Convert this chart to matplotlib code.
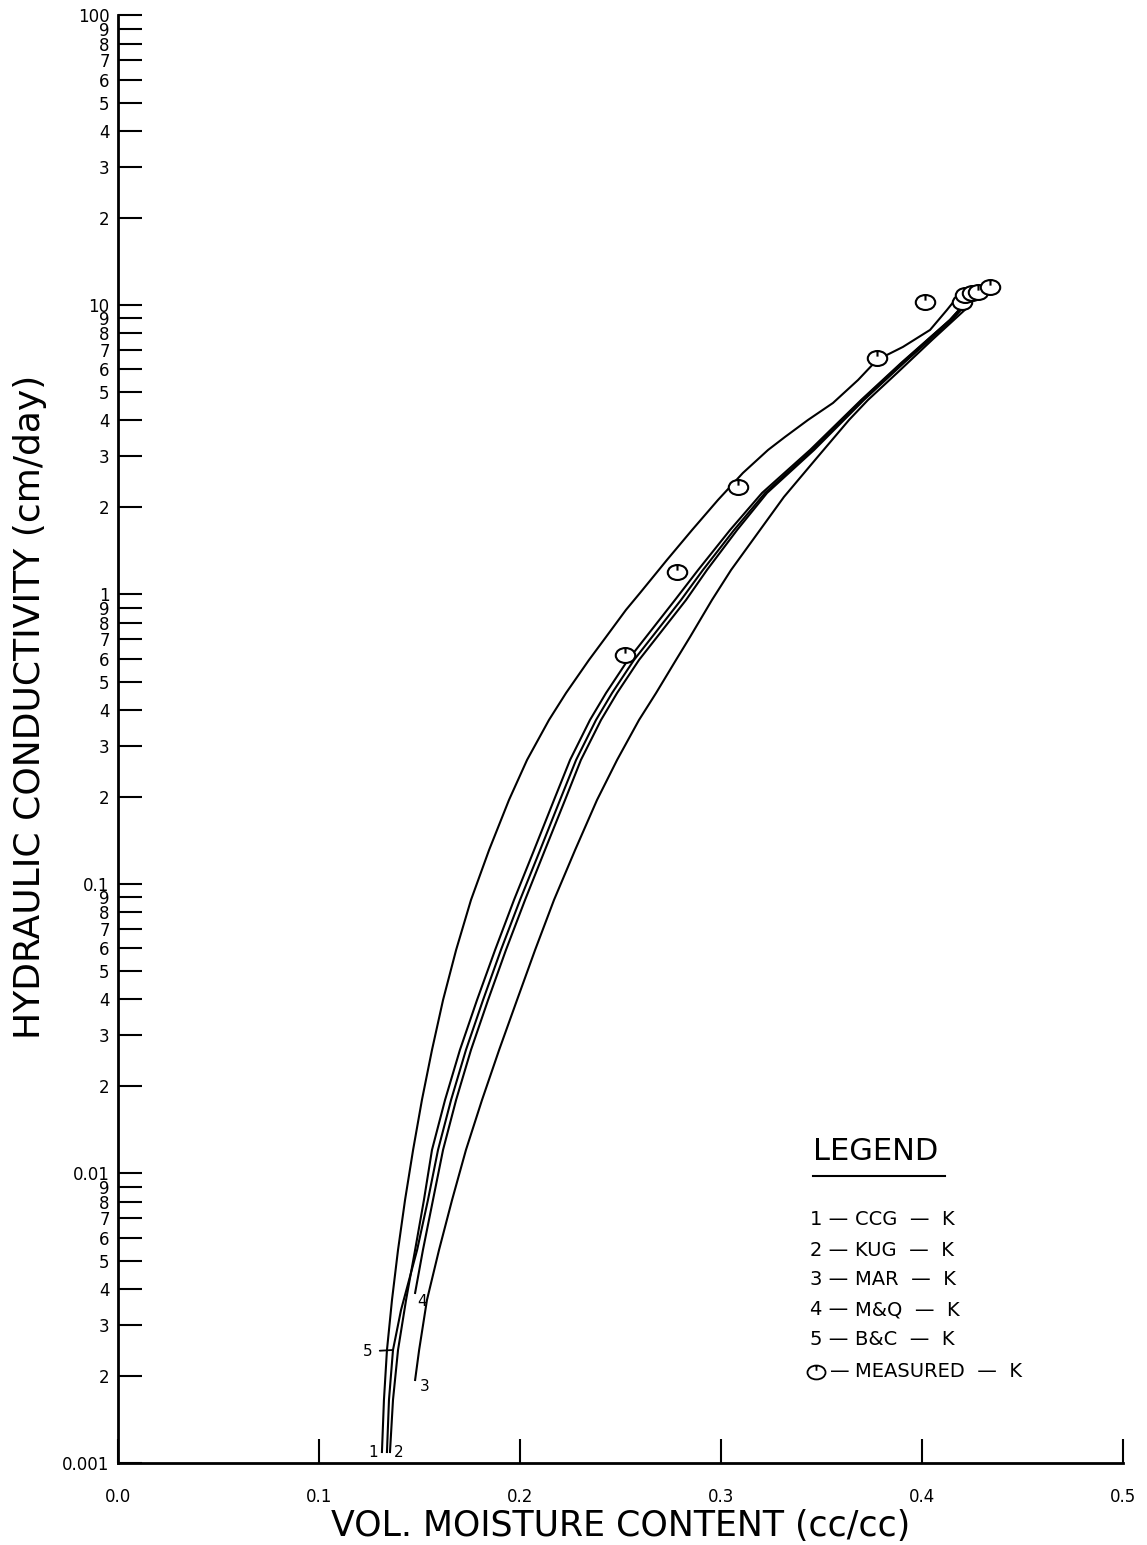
import numpy as np
import matplotlib
matplotlib.use("Agg")
import matplotlib.pyplot as plt
from matplotlib.path import Path
from matplotlib.ticker import FixedLocator, FixedFormatter

# --- data (theta in cc/cc, K in cm/day) ---
ccg_theta = [0.1313, 0.1323, 0.1338, 0.1363, 0.1393, 0.1428, 0.1468, 0.1512, 0.1562, 0.1617,
             0.1682, 0.1756, 0.1846, 0.1945, 0.2035, 0.2144, 0.2229, 0.2343, 0.2428, 0.2527,
             0.2597, 0.2731, 0.2856, 0.2985, 0.3109, 0.3234, 0.3318, 0.3433, 0.3557, 0.3682,
             0.3776, 0.3905, 0.4040, 0.4124, 0.4204, 0.4353]
ccg_k = [0.001091, 0.001651, 0.002456, 0.003656, 0.005442, 0.008105, 0.01206, 0.01795, 0.02671, 0.03973,
         0.05916, 0.08805, 0.1310, 0.1950, 0.2682, 0.3685, 0.4568, 0.5939, 0.7134, 0.8843,
         1.012, 1.316, 1.670, 2.121, 2.629, 3.156, 3.499, 4.008, 4.586, 5.508,
         6.457, 7.162, 8.199, 9.610, 11.27, 11.54]

kug_theta = [0.1353, 0.1368, 0.1393, 0.1433, 0.1478, 0.1522, 0.1562, 0.1627, 0.1701, 0.1786,
             0.1876, 0.1970, 0.2070, 0.2169, 0.2249, 0.2348, 0.2428, 0.2537, 0.2627, 0.2771,
             0.2886, 0.3045, 0.3204, 0.3443, 0.3697, 0.3896, 0.4139, 0.4229]
kug_k = [0.001091, 0.001651, 0.002456, 0.003656, 0.005442, 0.008105, 0.01206, 0.01795, 0.02671, 0.03973,
         0.05916, 0.08805, 0.1310, 0.1950, 0.2682, 0.3685, 0.4568, 0.5939, 0.7134, 0.9572,
         1.215, 1.670, 2.242, 3.156, 4.696, 6.306, 8.877, 10.41]

mar_theta = [0.1478, 0.1498, 0.1537, 0.1597, 0.1662, 0.1731, 0.1811, 0.1896, 0.1985, 0.2075,
             0.2169, 0.2274, 0.2383, 0.2483, 0.2592, 0.2677, 0.2776, 0.2846, 0.2955, 0.3050,
             0.3194, 0.3313, 0.3468, 0.3637, 0.3731, 0.3876, 0.4050, 0.4229]
mar_k = [0.001935, 0.002456, 0.003656, 0.005442, 0.008105, 0.01206, 0.01795, 0.02671, 0.03973, 0.05916,
         0.08805, 0.1310, 0.1950, 0.2682, 0.3685, 0.4568, 0.5939, 0.7134, 0.9572, 1.215,
         1.670, 2.172, 2.915, 4.008, 4.696, 5.823, 7.571, 9.843]

mq_theta = [0.1478, 0.1517, 0.1567, 0.1617, 0.1682, 0.1756, 0.1841, 0.1930, 0.2025, 0.2124,
            0.2224, 0.2303, 0.2403, 0.2483, 0.2592, 0.2682, 0.2826, 0.2930, 0.3080, 0.3229,
            0.3463, 0.3711, 0.3910, 0.4149, 0.4239]
mq_k = [0.003866, 0.005442, 0.008105, 0.01206, 0.01795, 0.02671, 0.03973, 0.05916, 0.08805, 0.1310,
        0.1950, 0.2682, 0.3685, 0.4568, 0.5939, 0.7134, 0.9572, 1.215, 1.670, 2.242,
        3.156, 4.696, 6.306, 8.877, 10.41]

bc_theta = [0.1338, 0.1348, 0.1368, 0.1408, 0.1448, 0.1488, 0.1542, 0.1592, 0.1657, 0.1731,
            0.1816, 0.1905, 0.2000, 0.2100, 0.2199, 0.2279, 0.2378, 0.2458, 0.2567, 0.2657,
            0.2801, 0.2910, 0.3065, 0.3219, 0.3453, 0.3701, 0.3900, 0.4139, 0.4229]
bc_k = [0.001091, 0.001651, 0.002456, 0.003377, 0.004286, 0.005442, 0.008105, 0.01206, 0.01795, 0.02671,
        0.03973, 0.05916, 0.08805, 0.1310, 0.1950, 0.2682, 0.3685, 0.4568, 0.5939, 0.7134,
        0.9572, 1.215, 1.670, 2.242, 3.156, 4.696, 6.306, 8.877, 10.41]

meas_theta = [0.2522, 0.2781, 0.3085, 0.3776, 0.4015, 0.4199, 0.4214, 0.4249, 0.4279, 0.4338]
meas_k = [0.618, 1.20, 2.35, 6.56, 10.2, 10.2, 10.8, 11.0, 11.1, 11.5]

legend_nums = ["1", "2", "3", "4", "5"]
legend_names = ["CCG", "KUG", "MAR", "M&Q", "B&C", "MEASURED"]

x_ticks = [0.0, 0.1, 0.2, 0.3, 0.4, 0.5]
x_ticklabels = ["0.0", "0.1", "0.2", "0.3", "0.4", "0.5"]
decades = [0.001, 0.01, 0.1, 1, 10, 100]
decade_labels = ["0.001", "0.01", "0.1", "1", "10", "100"]

plt.rcParams["font.family"] = ["DejaVu Sans"]

fig = plt.figure(figsize=(11.47, 15.45), dpi=100)
ax = fig.add_axes([0.1029, 0.0531, 0.8762, 0.9369])

# marker for measured points: flat circle with a small tick inside
circ = Path.unit_circle()
ell = Path(circ.vertices * np.array([1.3, 1.0]), circ.codes)
tick = Path([(0, 1.0), (0, 0.25)], [Path.MOVETO, Path.LINETO])
meas_marker = Path.make_compound_path(ell, tick)

lw = 1.5
curves = [(ccg_theta, ccg_k), (kug_theta, kug_k), (mar_theta, mar_k),
          (mq_theta, mq_k), (bc_theta, bc_k)]
for th, k in curves:
    ax.plot(th, k, color="black", lw=lw, solid_joinstyle="round")

ax.plot(meas_theta, meas_k, linestyle="none", marker=meas_marker, markersize=14,
        markerfacecolor="white", markeredgecolor="black", markeredgewidth=1.5)

ax.set_yscale("log")
ax.set_xlim(0, 0.5)
ax.set_ylim(0.001, 100)

# curve numbers at the lower ends
lab_kw = dict(fontsize=11, textcoords="offset points", va="center", ha="center")
ax.annotate("1", (ccg_theta[0], ccg_k[0]), xytext=(-6, 0), **lab_kw)
ax.annotate("2", (kug_theta[0], kug_k[0]), xytext=(6, 0), **lab_kw)
ax.annotate("3", (mar_theta[0], mar_k[0]), xytext=(7, -5), **lab_kw)
ax.annotate("4", (mq_theta[0], mq_k[0]), xytext=(5, -6), **lab_kw)
ax.annotate("5", (bc_theta[2], bc_k[2]), xytext=(-18, -1), arrowprops=dict(
    arrowstyle="-", lw=1.3, shrinkA=3, shrinkB=0), **lab_kw)

# axes styling: only left and bottom, ticks drawn inward
for s in ["top", "right"]:
    ax.spines[s].set_visible(False)
for s in ["left", "bottom"]:
    ax.spines[s].set_linewidth(2.0)

ax.xaxis.set_major_locator(FixedLocator(x_ticks))
ax.xaxis.set_major_formatter(FixedFormatter(x_ticklabels))
ax.tick_params(axis="x", which="major", direction="in", length=17, width=1.5,
               pad=18, labelsize=12)

minor_vals, minor_labs = [], []
for d in decades[:-1]:
    for m in range(2, 10):
        minor_vals.append(d * m)
        minor_labs.append(str(m))
ax.yaxis.set_major_locator(FixedLocator(decades))
ax.yaxis.set_major_formatter(FixedFormatter(decade_labels))
ax.yaxis.set_minor_locator(FixedLocator(minor_vals))
ax.yaxis.set_minor_formatter(FixedFormatter(minor_labs))
ax.tick_params(axis="y", which="both", direction="in", length=17, width=1.5,
               pad=6, labelsize=12)

ax.set_xlabel("VOL. MOISTURE CONTENT (cc/cc)", fontsize=25, va="center")
ax.set_ylabel("HYDRAULIC CONDUCTIVITY (cm/day)", fontsize=26, va="center")
ax.xaxis.set_label_coords(0.5, -0.0435)
ax.yaxis.set_label_coords(-0.0876, 0.522)

# hand-drawn style legend block
tr = ax.transAxes
ax.text(0.6915, 0.215, "LEGEND", transform=tr, fontsize=22, va="center", ha="left")
ax.plot([0.6915, 0.823], [0.1985, 0.1985], transform=tr, color="black", lw=1.5)
rows = [0.1679, 0.1471, 0.1264, 0.1057, 0.0850, 0.0629]
for i, name in enumerate(legend_names):
    if i < len(legend_nums):
        ax.text(0.6885, rows[i], legend_nums[i] + " \u2014", transform=tr,
                fontsize=14, va="center", ha="left")
    else:
        ax.plot([0.6945], [rows[i]], transform=tr, linestyle="none",
                marker=meas_marker, markersize=13, markerfacecolor="white",
                markeredgecolor="black", markeredgewidth=1.3)
        ax.text(0.708, rows[i], "\u2014", transform=tr, fontsize=14,
                va="center", ha="left")
    ax.text(0.733, rows[i], name + "  \u2014  K", transform=tr, fontsize=14,
            va="center", ha="left")

fig.savefig("out.png", dpi=100)
